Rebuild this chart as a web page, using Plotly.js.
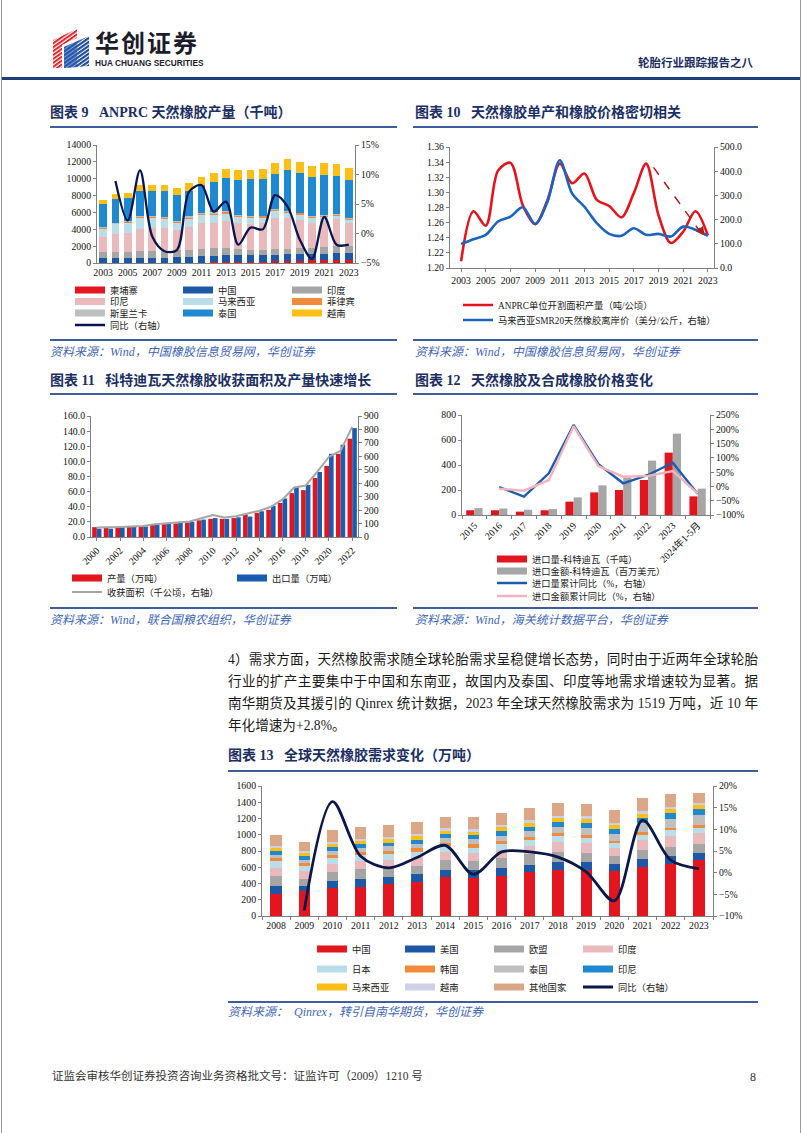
<!DOCTYPE html>
<html lang="zh-CN">
<head>
<meta charset="utf-8">
<script src="https://cdn.plot.ly/plotly-3.0.1.min.js"></script>
<style>
html,body{margin:0;padding:0;background:#fff;}
#page{position:relative;width:802px;height:1133px;overflow:hidden;background:#fff;font-family:"Liberation Serif","Noto Sans CJK SC",serif;}
.t{position:absolute;white-space:nowrap;line-height:1;}
.ttl{font-weight:bold;color:#1b2f63;font-size:14px;}
.rule{position:absolute;background:#3d5d9c;height:2px;}
.thin{position:absolute;background:#3d5d9c;height:1.5px;}
.src{font-style:italic;color:#3f67b5;font-size:12px;}
.ch{position:absolute;}
.pl{position:absolute;left:228px;width:530px;font-size:13.6px;line-height:1;color:#1a1a1a;text-align:justify;text-align-last:justify;white-space:nowrap;}
</style>
</head>
<body>
<div id="page">
  <div style="position:absolute;left:1px;top:0;width:1px;height:1133px;background:#9a9a9a"></div>
  <div style="position:absolute;left:800px;top:0;width:1px;height:1133px;background:#9a9a9a"></div>
  <svg width="42" height="42" style="position:absolute;left:51px;top:28px">
    <defs>
      <pattern id="rs" width="3.2" height="3.2" patternUnits="userSpaceOnUse" patternTransform="rotate(-35)">
        <rect width="3.2" height="2" fill="#e0262b"/>
      </pattern>
      <pattern id="bs" width="3.2" height="3.2" patternUnits="userSpaceOnUse" patternTransform="rotate(-35)">
        <rect width="3.2" height="2.2" fill="#1f4e9c"/>
      </pattern>
    </defs>
    <polygon points="2,12 26,1 26,10 11,17 11,40 2,40" fill="url(#rs)"/>
    <polygon points="13,19 38,8 38,38 13,40" fill="url(#bs)"/>
    <polygon points="13,19 26,13 26,39 13,40" fill="#2b5db0" opacity="0.6"/>
  </svg>
  <div class="t" style="left:95px;top:30px;font-size:24px;font-weight:bold;color:#1c1c2a;font-family:'Noto Sans CJK SC';letter-spacing:2px;">华创证券</div>
  <div class="t" style="left:95px;top:59px;font-size:8.3px;font-weight:bold;color:#1c1c2a;font-family:'Liberation Sans';">HUA CHUANG SECURITIES</div>
  <div class="t" style="left:638px;top:58px;font-size:11.5px;font-weight:bold;color:#1b2f63;">轮胎行业跟踪报告之八</div>
  <div style="position:absolute;left:2px;top:77px;width:798px;height:3px;background:#1f3e7a"></div>

  <div class="t ttl" style="left:50px;top:106px;">图表 9&nbsp;&nbsp;&nbsp;ANPRC 天然橡胶产量（千吨）</div>
  <div class="rule" style="left:50px;top:126px;width:347px;"></div>
  <div class="t ttl" style="left:415px;top:106px;">图表 10&nbsp;&nbsp;&nbsp;天然橡胶单产和橡胶价格密切相关</div>
  <div class="rule" style="left:413px;top:126px;width:345px;"></div>

  <div class="ch" id="c9"></div>
  <div class="ch" id="c10"></div>

  <div class="thin" style="left:50px;top:339px;width:347px;"></div>
  <div class="t src" style="left:50px;top:346px;">资料来源：Wind，中国橡胶信息贸易网，华创证券</div>
  <div class="thin" style="left:413px;top:339px;width:345px;"></div>
  <div class="t src" style="left:415px;top:346px;">资料来源：Wind，中国橡胶信息贸易网，华创证券</div>

  <div class="t ttl" style="left:50px;top:374px;">图表 11&nbsp;&nbsp;&nbsp;科特迪瓦天然橡胶收获面积及产量快速增长</div>
  <div class="rule" style="left:50px;top:393px;width:347px;"></div>
  <div class="t ttl" style="left:415px;top:374px;">图表 12&nbsp;&nbsp;&nbsp;天然橡胶及合成橡胶价格变化</div>
  <div class="rule" style="left:413px;top:393px;width:345px;"></div>

  <div class="ch" id="c11"></div>
  <div class="ch" id="c12"></div>

  <div class="thin" style="left:50px;top:607px;width:347px;"></div>
  <div class="t src" style="left:50px;top:614px;">资料来源：Wind，联合国粮农组织，华创证券</div>
  <div class="thin" style="left:413px;top:607px;width:345px;"></div>
  <div class="t src" style="left:415px;top:614px;">资料来源：Wind，海关统计数据平台，华创证券</div>

  <div class="pl" style="top:653px;">4）需求方面，天然橡胶需求随全球轮胎需求呈稳健增长态势，同时由于近两年全球轮胎</div>
  <div class="pl" style="top:675px;">行业的扩产主要集中于中国和东南亚，故国内及泰国、印度等地需求增速较为显著。据</div>
  <div class="pl" style="top:697px;">南华期货及其援引的 Qinrex 统计数据，2023 年全球天然橡胶需求为 1519 万吨，近 10 年</div>
  <div class="pl" style="top:719px;text-align-last:left;">年化增速为+2.8%。</div>

  <div class="t ttl" style="left:228px;top:749px;">图表 13&nbsp;&nbsp;&nbsp;全球天然橡胶需求变化（万吨）</div>
  <div class="rule" style="left:228px;top:770px;width:530px;"></div>

  <div class="ch" id="c13"></div>

  <div class="thin" style="left:228px;top:1001px;width:530px;"></div>
  <div class="t src" style="left:228px;top:1006px;">资料来源：&nbsp;&nbsp;Qinrex，转引自南华期货，华创证券</div>

  <div class="t" style="left:52px;top:1071px;font-size:11.5px;color:#333;">证监会审核华创证券投资咨询业务资格批文号：证监许可（2009）1210 号</div>
  <div class="t" style="left:750px;top:1071px;font-size:12px;color:#333;">8</div>
</div>

<script>
// ---------------- DATA ----------------
// Chart 9: ANPRC natural rubber output (thousand tonnes)
const years9 = [2003,2004,2005,2006,2007,2008,2009,2010,2011,2012,2013,2014,2015,2016,2017,2018,2019,2020,2021,2022,2023];
const cambodia9   = [20,25,20,20,22,20,35,42,51,65,85,97,127,145,193,220,288,349,370,385,390];
const china9      = [565,575,540,535,590,550,645,690,750,800,865,840,795,775,815,825,815,690,750,800,800];
const india9      = [710,745,770,855,810,880,820,860,900,915,850,705,575,625,695,650,710,715,775,840,850];
const indonesia9  = [1790,2065,2270,2635,2755,2750,2440,2735,2990,3010,3235,3155,3145,3160,3680,3630,3300,3040,3120,3140,2700];
const malaysia9   = [985,1170,1125,1285,1200,1070,855,940,995,920,825,670,720,675,740,605,640,515,470,380,350];
const philippines9= [90,100,110,120,130,100,100,110,130,150,160,160,150,150,160,150,150,140,140,140,140];
const srilanka9   = [92,95,104,109,118,129,137,153,158,152,130,99,89,79,83,83,75,78,77,75,70];
const thailand9   = [2767,2835,2811,3041,2925,3001,3018,3070,3326,3588,3950,4174,4349,4391,4234,4837,4722,4673,4798,4540,4550];
const vietnam9    = [430,590,600,600,700,750,800,900,900,1050,1000,1100,1050,1100,1300,1300,1300,1300,1400,1400,1400];
const yoy9        = [null,8.9,2.2,10.7,-0.5,-3.0,-2.8,7.1,8.2,3.7,5.4,-1.9,1.0,0.7,6.5,4.6,-1.0,-4.3,2.8,-1.9,-1.9];
const names9 = ['柬埔寨','中国','印度','印尼','马来西亚','菲律宾','斯里兰卡','泰国','越南'];
const lineName9 = '同比（右轴）';
const ticks9 = [2003,2005,2007,2009,2011,2013,2015,2017,2019,2021,2023];

// Chart 10: ANPRC yield (t/ha) and SMR20 FOB price (US cents/kg)
const years10 = years9;
const yield10 = [1.209,1.275,1.256,1.329,1.339,1.283,1.258,1.290,1.338,1.312,1.325,1.290,1.282,1.267,1.299,1.338,1.270,1.233,1.248,1.275,1.243];
const price10 = [99,119,137,192,212,251,182,274,445,308,253,185,141,133,164,137,141,130,171,158,133];
const names10 = ['ANPRC单位开割面积产量（吨/公顷）','马来西亚SMR20天然橡胶离岸价（美分/公斤，右轴）'];

// Chart 11: Côte d'Ivoire
const years11 = [2000,2001,2002,2003,2004,2005,2006,2007,2008,2009,2010,2011,2012,2013,2014,2015,2016,2017,2018,2019,2020,2021,2022];
const output11 = [13,12,13,14,14,16,17,18,19,22,24,24,25,30,32,36,45,58,62,78,94,110,130];
const export11 = [11,11,13,14,14,17,18,19,20,23,25,24,26,27,34,41,51,66,69,86,110,122,144];
const area11   = [70,70,75,78,82,95,100,105,115,140,163,145,155,175,195,225,280,368,383,487,597,642,819];
const names11 = ['产量（万吨）','出口量（万吨）','收获面积（千公顷，右轴）'];
const ticks11 = [2000,2002,2004,2006,2008,2010,2012,2014,2016,2018,2020,2022];

// Chart 12: imports from Côte d'Ivoire
const cats12 = ['2015','2016','2017','2018','2019','2020','2021','2022','2023','2024年1-5月'];
const vol12  = [38,38,27,38,107,181,200,280,499,149];
const val12  = [55,52,42,48,141,237,300,435,651,211];
const volYoy12 = [null,-2,-36,46,215,78,11,40,83,-26];
const valYoy12 = [null,-8,-15,22,211,71,34,37,54,-24];
const names12 = ['进口量-科特迪瓦（千吨）','进口金额-科特迪瓦（百万美元）','进口量累计同比（%，右轴）','进口金额累计同比（%，右轴）'];

// Chart 13: global NR demand (10k tonnes)
const years13 = ['2008','2009','2010','2011','2012','2013','2014','2015','2016','2017','2018','2019','2020','2021','2022','2023'];
const china13   = [267,304,341,358,391,424,477,469,494,539,563,563,555,605,638,695];
const usa13     = [107,62,87,99,90,90,86,94,98,94,99,99,83,94,98,86];
const eu13      = [124,95,115,123,115,107,124,112,120,124,124,115,106,119,115,103];
const india13   = [94,92,97,96,98,100,102,98,103,108,122,117,96,122,138,140];
const japan13   = [88,65,75,78,73,71,71,69,67,69,71,71,58,63,66,62];
const korea13   = [35,33,38,39,38,39,40,40,40,39,38,36,30,33,33,32];
const thailand13= [40,40,49,49,51,52,54,60,65,68,75,80,80,110,100,130];
const indo13    = [42,42,42,42,42,51,50,51,58,58,61,64,58,65,83,75];
const malay13   = [46,46,46,40,44,45,46,47,50,48,50,50,49,48,41,40];
const vietnam13 = [22,22,25,26,26,27,28,30,30,30,30,30,30,30,24,25];
const other13   = [130,112,142,148,147,146,144,143,146,156,153,157,155,163,169,130];
const yoy13     = [null,-8.7,16.4,3.8,1.1,3.5,6.3,-0.4,4.8,4.8,3.6,0.2,-6.5,12.1,2.9,0.9];
const names13 = ['中国','美国','欧盟','印度','日本','韩国','泰国','印尼','马来西亚','越南','其他国家'];
const lineName13 = '同比（右轴）';

// ---------------- HELPERS ----------------
const FONT = '"Liberation Serif","Noto Sans CJK SC",serif';
const TICKF = {family: FONT, size: 9.8, color: '#111'};
const LEGF = {family: FONT, size: 9.3, color: '#222'};
function ax(extra) {
  return Object.assign({showline: true, linecolor: '#808080', linewidth: 1, ticks: 'outside', ticklen: 3,
    tickcolor: '#808080', showgrid: false, zeroline: false, tickfont: TICKF, fixedrange: true}, extra);
}
function draw(id, B, P, traces, axes, legends, extra) {
  const el = document.getElementById(id);
  Object.assign(el.style, {left: B.l + 'px', top: B.t + 'px', width: B.w + 'px', height: B.h + 'px'});
  const W = P.x1 - P.x0, H = P.y1 - P.y0;
  const layout = Object.assign({
    width: B.w, height: B.h,
    margin: {l: P.x0 - B.l, r: B.l + B.w - P.x1, t: P.y0 - B.t, b: B.t + B.h - P.y1, pad: 0, autoexpand: false},
    paper_bgcolor: 'rgba(0,0,0,0)', plot_bgcolor: 'rgba(0,0,0,0)',
    font: {family: FONT, size: 10, color: '#111'}, showlegend: true, hovermode: false
  }, axes, extra || {});
  traces.forEach(t => { t.showlegend = false; });
  legends.forEach((g, k) => {
    const key = k ? 'legend' + (k + 1) : 'legend';
    let tr;
    if (g.t !== undefined) {
      tr = traces[g.t];
    } else {
      tr = {type: 'scatter', mode: 'lines', x: [null], y: [null], name: g.name, hoverinfo: 'skip',
            line: {color: g.color, width: 7}};
      traces.push(tr);
    }
    tr.legend = key; tr.showlegend = true;
    layout[key] = {x: (g.x - 5 - P.x0) / W, y: (P.y1 - g.y) / H, xanchor: 'left', yanchor: 'middle',
      orientation: 'v', bgcolor: 'rgba(0,0,0,0)', borderwidth: 0, font: LEGF, itemwidth: 30};
  });
  Plotly.newPlot(el, traces, layout, {staticPlot: true, displayModeBar: false});
}

// ---------------- CHART 9 ----------------
(function () {
  const series = [cambodia9, china9, india9, indonesia9, malaysia9, philippines9, srilanka9, thailand9, vietnam9];
  const colors = ['#e3161f','#1d58a7','#a5a5a5','#e9b9bb','#b9dde9','#f18b3b','#bfbfbf','#1e88d0','#fdbf16'];
  const traces = series.map((s, i) => ({type: 'bar', x: years9, y: s, name: names9[i], marker: {color: colors[i], line: {width: 0}}}));
  traces.push({type: 'scatter', mode: 'lines', x: years9, y: yoy9, yaxis: 'y2', name: lineName9,
    line: {color: '#0b1650', width: 2.3, shape: 'spline', smoothing: 0.9}});
  const cols = [75, 183, 292], rows = [290, 301.5, 313];
  const legends = [];
  names9.forEach((n, i) => legends.push({name: n, color: colors[i], x: cols[i % 3], y: rows[Math.floor(i / 3)]}));
  legends.push({t: 9, x: 75, y: 325});
  draw('c9', {l: 40, t: 135, w: 345, h: 200}, {x0: 97, x1: 355, y0: 145, y1: 263}, traces, {
    barmode: 'stack', bargap: 0.38,
    xaxis: ax({range: [2002.5, 2023.5], tickvals: ticks9, ticks: '', tickformat: 'd'}),
    yaxis: ax({range: [0, 14000], dtick: 2000, tick0: 0, tickformat: 'd'}),
    yaxis2: ax({range: [-5, 15], dtick: 5, tick0: -5, ticksuffix: '%', overlaying: 'y', side: 'right'})
  }, legends);
})();

// ---------------- CHART 10 ----------------
(function () {
  const traces = [
    {type: 'scatter', mode: 'lines', x: years10, y: yield10, name: names10[0], line: {color: '#e3141e', width: 2.6, shape: 'spline', smoothing: 0.9}},
    {type: 'scatter', mode: 'lines', x: years10, y: price10, yaxis: 'y2', name: names10[1], line: {color: '#1a64c0', width: 2.6, shape: 'spline', smoothing: 0.9}}
  ];
  const legends = [{t: 0, x: 463, y: 305}, {t: 1, x: 463, y: 320}];
  draw('c10', {l: 400, t: 135, w: 345, h: 200}, {x0: 450, x1: 714, y0: 147, y1: 268}, traces, {
    xaxis: ax({range: [2002.1, 2023.5], tickvals: ticks9, tickformat: 'd'}),
    yaxis: ax({range: [1.2, 1.36], dtick: 0.02, tick0: 1.2, tickformat: '.2f'}),
    yaxis2: ax({range: [0, 500], dtick: 100, tick0: 0, tickformat: '.1f', overlaying: 'y', side: 'right'}),
    shapes: [{type: 'line', xref: 'x', yref: 'y', x0: 2018.6, y0: 1.333, x1: 2022.3, y1: 1.2498,
      line: {color: '#a8201f', width: 1.5, dash: 'dash'}}],
    annotations: [{xref: 'x', yref: 'y', axref: 'x', ayref: 'y', x: 2022.75, y: 1.2425, ax: 2022.2, ay: 1.2548,
      text: '', showarrow: true, arrowhead: 2, arrowsize: 1.2, arrowwidth: 1.5, arrowcolor: '#a8201f'}]
  }, legends);
})();

// ---------------- CHART 11 ----------------
(function () {
  const traces = [
    {type: 'bar', x: years11, y: output11, name: names11[0], marker: {color: '#e2141e'}},
    {type: 'bar', x: years11, y: export11, name: names11[1], marker: {color: '#1c5cb0'}},
    {type: 'scatter', mode: 'lines', x: years11, y: area11, yaxis: 'y2', name: names11[2], line: {color: '#a6a6a6', width: 2}}
  ];
  const legends = [{name: names11[0], color: '#e2141e', x: 72, y: 578}, {name: names11[1], color: '#1c5cb0', x: 237, y: 578}, {t: 2, x: 72, y: 592}];
  draw('c11', {l: 40, t: 400, w: 345, h: 205}, {x0: 91, x1: 358, y0: 416, y1: 537}, traces, {
    barmode: 'group', bargap: 0.2, bargroupgap: 0,
    xaxis: ax({range: [1999.5, 2022.5], tickvals: ticks11, tickangle: -45, tickformat: 'd'}),
    yaxis: ax({range: [0, 160], dtick: 20, tick0: 0, tickformat: '.1f'}),
    yaxis2: ax({range: [0, 900], dtick: 100, tick0: 0, overlaying: 'y', side: 'right'})
  }, legends);
})();

// ---------------- CHART 12 ----------------
(function () {
  const traces = [
    {type: 'bar', x: cats12, y: vol12, name: names12[0], marker: {color: '#e2141e'}},
    {type: 'bar', x: cats12, y: val12, name: names12[1], marker: {color: '#a6a6a6'}},
    {type: 'scatter', mode: 'lines', x: cats12, y: volYoy12, yaxis: 'y2', name: names12[2], line: {color: '#1c5cb0', width: 2.4}},
    {type: 'scatter', mode: 'lines', x: cats12, y: valYoy12, yaxis: 'y2', name: names12[3], line: {color: '#f2b3bd', width: 2.4}}
  ];
  const legends = [{name: names12[0], color: '#e2141e', x: 497, y: 559}, {name: names12[1], color: '#a6a6a6', x: 497, y: 571},
    {t: 2, x: 497, y: 583}, {t: 3, x: 497, y: 596}];
  draw('c12', {l: 400, t: 400, w: 345, h: 206}, {x0: 462, x1: 710, y0: 415, y1: 515}, traces, {
    barmode: 'group', bargap: 0.34, bargroupgap: 0,
    xaxis: ax({type: 'category', range: [-0.5, 9.5], tickangle: -45, tickson: 'boundaries'}),
    yaxis: ax({range: [0, 800], dtick: 200, tick0: 0}),
    yaxis2: ax({range: [-100, 250], dtick: 50, tick0: -100, ticksuffix: '%', overlaying: 'y', side: 'right'})
  }, legends);
})();

// ---------------- CHART 13 ----------------
(function () {
  const series = [china13, usa13, eu13, india13, japan13, korea13, thailand13, indo13, malay13, vietnam13, other13];
  const colors = ['#e3161f','#1d58a7','#a5a5a5','#e9b9bb','#b9dde9','#f18b3b','#bfbfbf','#1e88d0','#fdbf16','#cdd0e6','#dba787'];
  const traces = series.map((s, i) => ({type: 'bar', x: years13, y: s, name: names13[i], marker: {color: colors[i], line: {width: 0}}}));
  traces.push({type: 'scatter', mode: 'lines', x: years13, y: yoy13, yaxis: 'y2', name: lineName13,
    line: {color: '#0a1848', width: 2.8, shape: 'spline', smoothing: 0.9}});
  const cols = [317, 405, 494, 583], rows = [949, 969, 987];
  const legends = [];
  names13.forEach((n, i) => legends.push({name: n, color: colors[i], x: cols[i % 4], y: rows[Math.floor(i / 4)]}));
  legends.push({t: 11, x: cols[3], y: rows[2]});
  draw('c13', {l: 220, t: 775, w: 545, h: 225}, {x0: 262, x1: 713, y0: 786, y1: 916}, traces, {
    barmode: 'stack', bargap: 0.6,
    xaxis: ax({type: 'category', range: [-0.5, 15.5], tickson: 'boundaries', tickangle: 0}),
    yaxis: ax({range: [0, 1600], dtick: 200, tick0: 0}),
    yaxis2: ax({range: [-10, 20], dtick: 5, tick0: -10, ticksuffix: '%', overlaying: 'y', side: 'right'})
  }, legends);
})();
</script>
</body>
</html>
